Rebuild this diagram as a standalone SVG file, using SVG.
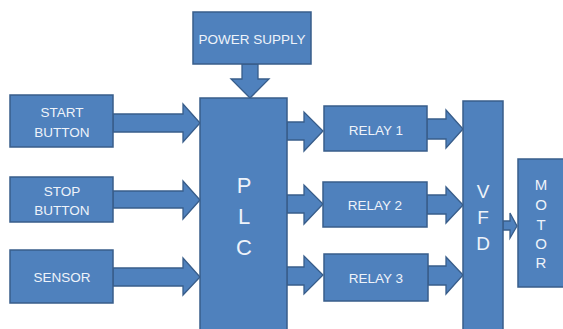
<svg xmlns="http://www.w3.org/2000/svg" width="563" height="329" viewBox="0 0 563 329">
  <style>
    .box { fill: #4F81BD; stroke: #385D8A; stroke-width: 1.5; }
    .arr { fill: #4F81BD; stroke: #385D8A; stroke-width: 1.3; stroke-linejoin: miter; }
    .lbl { font-family: "Liberation Sans", Arial, sans-serif; font-size: 13.5px; fill: #EEF3FA; text-anchor: middle; }
    .big { font-family: "Liberation Sans", Arial, sans-serif; font-size: 22px; fill: #EEF3FA; text-anchor: middle; }
    .mid { font-family: "Liberation Sans", Arial, sans-serif; font-size: 19px; fill: #EEF3FA; text-anchor: middle; }
    .sml { font-family: "Liberation Sans", Arial, sans-serif; font-size: 15px; fill: #EEF3FA; text-anchor: middle; }
  </style>
  <rect width="563" height="329" fill="#FFFFFF"/>

  <!-- block arrows between the blocks -->
  <g id="connectors">
    <!-- power supply down into PLC -->
    <polygon class="arr" points="242,64 258,64 258,79 269,79 250,98 231,79 242,79"/>
    <!-- inputs into PLC -->
    <polygon class="arr" points="113,114 183,114 183,104 200,123 183,142 183,132 113,132"/>
    <polygon class="arr" points="113,191 183,191 183,181 200,200 183,219 183,208 113,208"/>
    <polygon class="arr" points="113,268 183,268 183,258 200,277 183,295 183,286 113,286"/>
    <!-- PLC to relays -->
    <polygon class="arr" points="287,122 304,122 304,112 323,131 304,151 304,140 287,140"/>
    <polygon class="arr" points="287,195 304,195 304,185 323,204 304,224 304,213 287,213"/>
    <polygon class="arr" points="287,267 304,267 304,256 323,275 304,294 304,285 287,285"/>
    <!-- relays to VFD -->
    <polygon class="arr" points="427,119 446,119 446,110 463,129 446,148 446,139 427,139"/>
    <polygon class="arr" points="427,195 446,195 446,187 463,205 446,223 446,214 427,214"/>
    <polygon class="arr" points="428,266 446,266 446,257 463,275 446,294 446,285 428,285"/>
    <!-- VFD to motor -->
    <polygon class="arr" points="503,221 510,221 510,213 517,226 510,238 510,230 503,230"/>
  </g>

  <g id="power-supply">
    <rect class="box" x="193" y="12" width="118" height="52"/>
    <text class="lbl" x="252" y="44">POWER SUPPLY</text>
  </g>

  <g id="start-button">
    <rect class="box" x="10" y="95" width="103" height="52"/>
    <text class="lbl" x="62" y="117">START</text>
    <text class="lbl" x="62" y="136.5">BUTTON</text>
  </g>

  <g id="stop-button">
    <rect class="box" x="10" y="177" width="103" height="45"/>
    <text class="lbl" x="62" y="196">STOP</text>
    <text class="lbl" x="62" y="215">BUTTON</text>
  </g>

  <g id="sensor">
    <rect class="box" x="10" y="250" width="103" height="53"/>
    <text class="lbl" x="62" y="282">SENSOR</text>
  </g>

  <g id="plc">
    <rect class="box" x="200" y="98" width="87" height="240"/>
    <text class="big" x="244" y="193">P</text>
    <text class="big" x="244" y="224">L</text>
    <text class="big" x="244" y="255">C</text>
  </g>

  <g id="relay-1">
    <rect class="box" x="324" y="106" width="103" height="45"/>
    <text class="lbl" x="376" y="135">RELAY 1</text>
  </g>

  <g id="relay-2">
    <rect class="box" x="323" y="182" width="104" height="45"/>
    <text class="lbl" x="375" y="210">RELAY 2</text>
  </g>

  <g id="relay-3">
    <rect class="box" x="324" y="254" width="104" height="47"/>
    <text class="lbl" x="376" y="283">RELAY 3</text>
  </g>

  <g id="vfd">
    <rect class="box" x="463" y="101" width="40" height="240"/>
    <text class="mid" x="483" y="198">V</text>
    <text class="mid" x="483" y="223.5">F</text>
    <text class="mid" x="483" y="249.5">D</text>
  </g>

  <g id="motor">
    <rect class="box" x="518" y="159" width="52" height="128"/>
    <text class="sml" x="541" y="190">M</text>
    <text class="sml" x="541" y="210">O</text>
    <text class="sml" x="541" y="229.5">T</text>
    <text class="sml" x="541" y="248.5">O</text>
    <text class="sml" x="541" y="267.5">R</text>
  </g>
</svg>
